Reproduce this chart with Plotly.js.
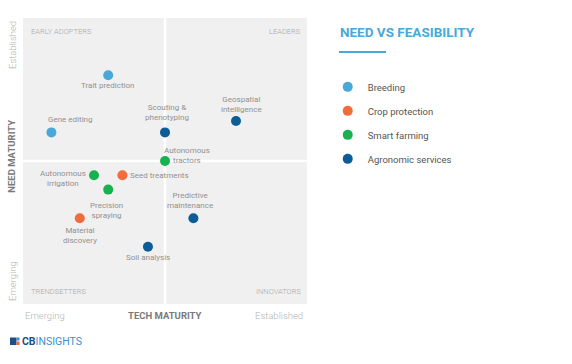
<!DOCTYPE html>
<html>
<head>
<meta charset="utf-8">
<script src="https://cdn.plot.ly/plotly-3.0.1.min.js"></script>
<style>html,body{margin:0;padding:0;background:#fff;}#chart{width:572px;height:364px;}</style>
</head>
<body>
<div id="chart"></div>
<script>
// ---- data ----
const categories = ['Breeding', 'Crop protection', 'Smart farming', 'Agronomic services'];
const categoryColors = ['#4aa8d8', '#f26b3a', '#17b14f', '#0b5c97'];
const technologies = ['Trait prediction', 'Gene editing', 'Scouting &<br>phenotyping', 'Geospatial<br>intelligence',
  'Autonomous<br>tractors', 'Autonomous<br>irrigation', 'Seed treatments', 'Precision<br>spraying',
  'Material<br>discovery', 'Predictive<br>maintenance', 'Soil analysis'];
const technologyCategory = [0, 0, 3, 3, 2, 2, 1, 2, 1, 3, 3];
const techMaturity = [3.0, 1.0, 5.0, 7.5, 5.0, 2.5, 3.5, 3.0, 2.0, 6.0, 4.4];
const needMaturity = [8.0, 6.0, 6.0, 6.4, 5.0, 4.5, 4.5, 4.0, 3.0, 3.0, 2.0];
const quadrantLabels = ['EARLY ADOPTERS', 'LEADERS', 'TRENDSETTERS', 'INNOVATORS'];
const axisEndLabels = ['Emerging', 'Established'];

// label placement styles: [xanchor, yanchor, xshift, yshift]
const labelStyle = [
  ['center', 'top', 0, -4],
  ['left', 'bottom', -5, 6],
  ['center', 'bottom', 2, 8],
  ['center', 'bottom', 5, 5],
  ['left', 'middle', -3, 6],
  ['right', 'middle', -6, -3],
  ['left', 'middle', 6, 0],
  ['center', 'top', -2, -9],
  ['center', 'top', 0, -6],
  ['center', 'bottom', -3, 6],
  ['center', 'top', 0, -4]
];

const FONT = 'Roboto, "Liberation Sans", sans-serif';

const traces = categories.map((cat, ci) => {
  const idx = technologies.map((_, i) => i).filter(i => technologyCategory[i] === ci);
  return {
    type: 'scatter', mode: 'markers', name: cat, legendgroup: 'g' + ci,
    x: idx.map(i => techMaturity[i]), y: idx.map(i => needMaturity[i]),
    text: idx.map(i => technologies[i].replace('<br>', ' ')),
    hoverinfo: 'text',
    marker: {color: categoryColors[ci], size: 10, line: {width: 0}}
  };
});

const annotations = technologies.map((t, i) => ({
  x: techMaturity[i], y: needMaturity[i], xref: 'x', yref: 'y', text: t, showarrow: false,
  xanchor: labelStyle[i][0], yanchor: labelStyle[i][1], xshift: labelStyle[i][2], yshift: labelStyle[i][3],
  align: 'center', font: {family: FONT, size: 8, color: '#909090'}
}));

const qStyle = {family: FONT, size: 7.5, color: '#a8a8a8', weight: 300};
annotations.push(
  {xref: 'paper', yref: 'paper', x: 0, y: 1, xshift: 6, yshift: -7, xanchor: 'left', yanchor: 'top', text: quadrantLabels[0], showarrow: false, font: qStyle},
  {xref: 'paper', yref: 'paper', x: 1, y: 1, xshift: -4, yshift: -7, xanchor: 'right', yanchor: 'top', text: quadrantLabels[1], showarrow: false, font: qStyle},
  {xref: 'paper', yref: 'paper', x: 0, y: 0, xshift: 6, yshift: 6, xanchor: 'left', yanchor: 'bottom', text: quadrantLabels[2], showarrow: false, font: qStyle},
  {xref: 'paper', yref: 'paper', x: 1, y: 0, xshift: -4, yshift: 6, xanchor: 'right', yanchor: 'bottom', text: quadrantLabels[3], showarrow: false, font: qStyle}
);

const endStyle = {family: FONT, size: 9.5, color: '#b3b3b3', weight: 300};
annotations.push(
  {xref: 'paper', yref: 'paper', x: 0, y: 0, xshift: 0, yshift: -4, xanchor: 'left', yanchor: 'top', text: axisEndLabels[0], showarrow: false, font: endStyle},
  {xref: 'paper', yref: 'paper', x: 1, y: 0, xshift: -2, yshift: -4, xanchor: 'right', yanchor: 'top', text: axisEndLabels[1], showarrow: false, font: endStyle},
  {xref: 'paper', yref: 'paper', x: 0, y: 0, xshift: -11, yshift: 1, xanchor: 'center', yanchor: 'bottom', textangle: -90, text: axisEndLabels[0], showarrow: false, font: endStyle},
  {xref: 'paper', yref: 'paper', x: 0, y: 1, xshift: -11, yshift: -1, xanchor: 'center', yanchor: 'top', textangle: -90, text: axisEndLabels[1], showarrow: false, font: endStyle},
  {xref: 'paper', yref: 'paper', x: 0.5, y: 0, yshift: -4, xanchor: 'center', yanchor: 'top', text: '<b>TECH MATURITY</b>', showarrow: false, font: {family: FONT, size: 9.5, color: '#7a7a7a'}},
  {xref: 'paper', yref: 'paper', x: 0, y: 0.515, xshift: -11, xanchor: 'center', yanchor: 'middle', textangle: -90, text: '<b>NEED MATURITY</b>', showarrow: false, font: {family: FONT, size: 9.5, color: '#7a7a7a'}},
  // title
  {xref: 'paper', yref: 'paper', x: 1, y: 1, xshift: 31, yshift: -14, xanchor: 'left', yanchor: 'middle', text: '<b>NEED VS FEASIBILITY</b>', showarrow: false,
   font: {family: FONT, size: 13.5, color: '#4aa8d8'}},
  // logo text
  {xref: 'paper', yref: 'paper', x: 0, y: 0, xshift: -3, yshift: -37, xanchor: 'left', yanchor: 'middle',
   text: '<b><span style="color:#1d4f86">CB</span></b><span style="color:#3d8fd1">INSIGHTS</span>', showarrow: false,
   font: {family: FONT, size: 10.5, color: '#1d4f86'}}
);

// pixel -> paper helpers for decorations
const px = v => (v - 23) / 284;
const py = v => 1 - (v - 18) / 286;

const layout = {
  width: 572, height: 364,
  margin: {l: 23, r: 265, t: 18, b: 60, pad: 0},
  paper_bgcolor: '#ffffff', plot_bgcolor: '#f0f0f0',
  showlegend: true,
  legend: {x: 1.073, y: 0.81, xanchor: 'left', yanchor: 'top', bgcolor: 'rgba(0,0,0,0)',
    font: {family: FONT, size: 9.5, color: '#555555'}, tracegroupgap: 5, itemwidth: 30},
  xaxis: {range: [0, 10], showgrid: false, zeroline: false, showticklabels: false, ticks: '', fixedrange: true},
  yaxis: {range: [0, 10], showgrid: false, zeroline: false, showticklabels: false, ticks: '', fixedrange: true},
  shapes: [
    {type: 'line', xref: 'x', yref: 'paper', x0: 5, x1: 5, y0: 0, y1: 1, line: {color: '#ffffff', width: 2.5}, layer: 'below'},
    {type: 'line', xref: 'paper', yref: 'y', x0: 0, x1: 1, y0: 5, y1: 5, line: {color: '#ffffff', width: 2.5}, layer: 'below'},
    {type: 'line', xref: 'paper', yref: 'paper', x0: px(339), x1: px(386), y0: py(52), y1: py(52), line: {color: '#4aa8d8', width: 2}},
    // logo icon
    {type: 'rect', xref: 'paper', yref: 'paper', x0: px(10), x1: px(16.5), y0: py(345), y1: py(337.5), line: {width: 0}, fillcolor: '#1d4f86'},
    {type: 'rect', xref: 'paper', yref: 'paper', x0: px(16.5), x1: px(19.5), y0: py(340.5), y1: py(337.5), line: {width: 0}, fillcolor: '#3d8fd1'},
    {type: 'rect', xref: 'paper', yref: 'paper', x0: px(16.5), x1: px(19.5), y0: py(345), y1: py(341.5), line: {width: 0}, fillcolor: '#f26b3a'}
  ],
  annotations: annotations,
  font: {family: FONT}
};

Plotly.newPlot('chart', traces, layout, {displayModeBar: false, staticPlot: true});
</script>
</body>
</html>
